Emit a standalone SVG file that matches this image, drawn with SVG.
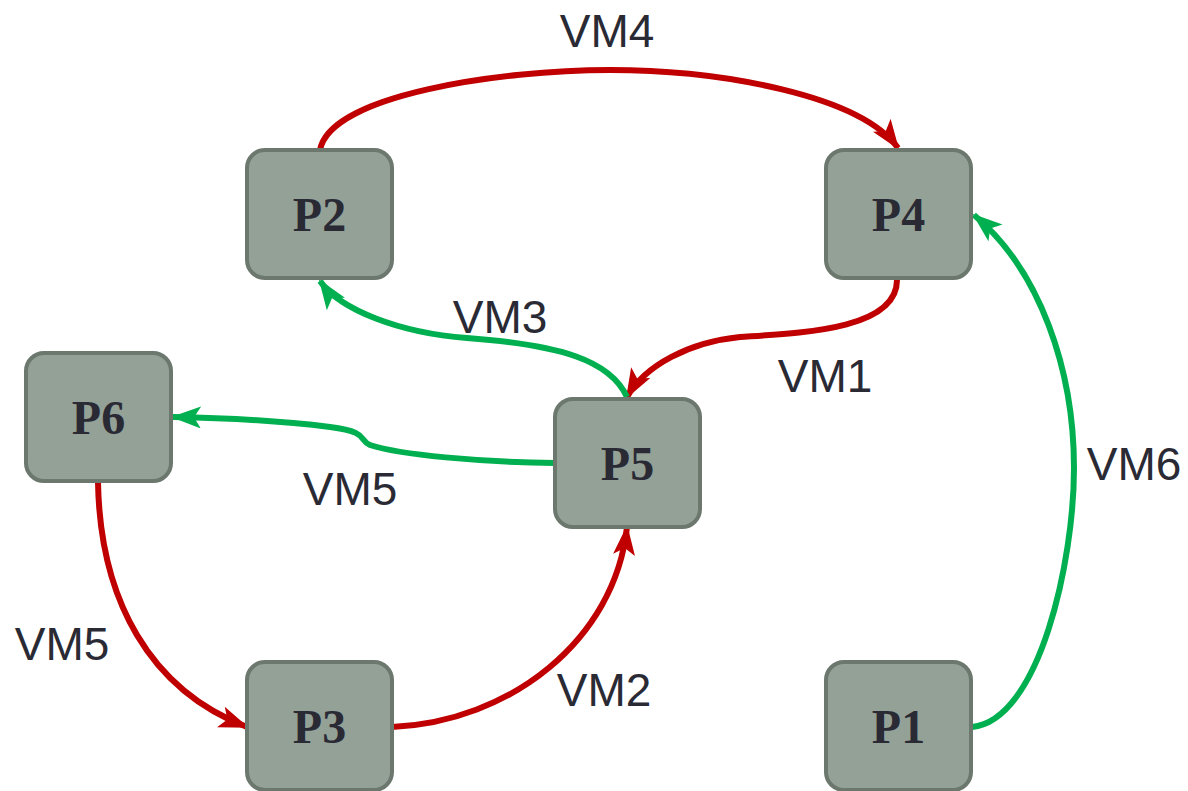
<svg xmlns="http://www.w3.org/2000/svg" width="1188" height="791" viewBox="0 0 1188 791">
<style>
.node rect{fill:#93a197;stroke:#6c776e;stroke-width:4}
.node text{font-family:"Liberation Serif",serif;font-weight:bold;font-size:48px;fill:#2a2a35;text-anchor:middle}
.e{fill:none;stroke-width:6}
.r{stroke:#c00000;marker-end:url(#ar)}
.g{stroke:#00b050;marker-end:url(#ag)}
.lbl{font-family:"Liberation Sans",Arial,sans-serif;font-size:46px;fill:#2a2a35;text-anchor:middle}
</style>
<defs>
<marker id="ar" viewBox="0 0 30 22" markerWidth="5" markerHeight="3.67" refX="28" refY="11" orient="auto">
<path d="M0,0 L30,11 L0,22 L7,11 z" fill="#c00000"/>
</marker>
<marker id="ag" viewBox="0 0 30 22" markerWidth="5" markerHeight="3.67" refX="28" refY="11" orient="auto">
<path d="M0,0 L30,11 L0,22 L7,11 z" fill="#00b050"/>
</marker>
</defs>
<rect width="1188" height="791" fill="#ffffff"/>
<g id="connectors">
<path class="e r" d="M320,150 C330,95 500,70 610,70 C720,70 860,95 898,148"/>
<path class="e r" d="M897,280 C897,330 800,333 740,337 C690,342 645,365 627,397"/>
<path class="e g" d="M627,397 C610,360 560,345 467,338 C400,333 340,310 320,281"/>
<path class="e g" d="M555,463 C480,462 400,455 370,445 C358,440 370,432 330,427 C290,422 230,418 173,417"/>
<path class="e r" d="M98,482 C100,600 150,690 247,727"/>
<path class="e r" d="M392,727 C510,722 615,640 627,527"/>
<path class="e g" d="M972,727 C1040,720 1074,560 1074,468 C1074,370 1040,270 974,215"/>
<text class="lbl" x="607" y="47">VM4</text>
<text class="lbl" x="825" y="392">VM1</text>
<text class="lbl" x="500" y="333">VM3</text>
<text class="lbl" x="350" y="505">VM5</text>
<text class="lbl" x="62" y="660">VM5</text>
<text class="lbl" x="604" y="706">VM2</text>
<text class="lbl" x="1134" y="480">VM6</text>
</g>
<g id="P2" class="node"><rect x="247" y="150" width="145" height="128" rx="18"/><text x="319.5" y="231">P2</text></g>
<g id="P4" class="node"><rect x="826" y="150" width="145" height="128" rx="18"/><text x="898.5" y="231">P4</text></g>
<g id="P5" class="node"><rect x="555" y="399" width="145" height="128" rx="18"/><text x="627.5" y="480">P5</text></g>
<g id="P6" class="node"><rect x="26" y="353" width="145" height="128" rx="18"/><text x="98.5" y="434">P6</text></g>
<g id="P3" class="node"><rect x="247" y="662" width="145" height="128" rx="18"/><text x="319.5" y="743">P3</text></g>
<g id="P1" class="node"><rect x="826" y="662" width="145" height="128" rx="18"/><text x="898.5" y="743">P1</text></g>
</svg>
